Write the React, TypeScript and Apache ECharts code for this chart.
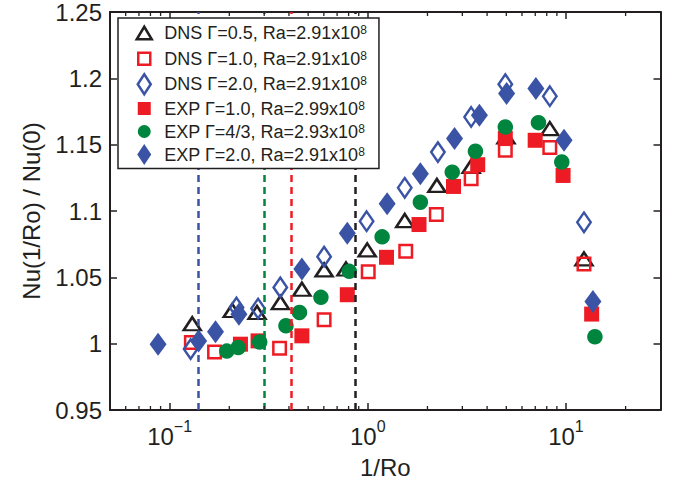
import React, { useEffect, useRef } from "react";
import * as echarts from "echarts";

const FONT = '"Liberation Sans", Arial, Helvetica, sans-serif';
const BLACK = "#231f20";
const RED = "#ed1c24";
const BLUE = "#3a53a4";
const GREEN = "#00853f";

const xMin = 0.05;
const xMax = 30;
const yMin = 0.95;
const yMax = 1.25;
const yStep = 0.05;

// DNS Γ=0.5
const dnsG05X = [0.130, 0.207, 0.276, 0.362, 0.465, 0.602, 0.776, 0.993, 1.536, 2.232, 3.323, 4.983, 8.289, 12.33];
const dnsG05Y = [1.015, 1.025, 1.0235, 1.031, 1.041, 1.0556, 1.0563, 1.0707, 1.0928, 1.1193, 1.1336, 1.1558, 1.1621, 1.0639];
// DNS Γ=1.0
const dnsG10X = [0.1287, 0.1685, 0.3588, 0.6018, 1.005, 1.554, 2.217, 3.323, 4.942, 8.289, 12.33];
const dnsG10Y = [1.0009, 0.9938, 0.9966, 1.018, 1.0543, 1.0696, 1.0974, 1.1243, 1.1457, 1.1478, 1.0601];
// DNS Γ=2.0
const dnsG20X = [0.1276, 0.2174, 0.2794, 0.3617, 0.6018, 0.986, 1.536, 2.258, 3.323, 4.942, 8.289, 12.33];
const dnsG20Y = [0.9959, 1.0273, 1.0265, 1.0424, 1.0656, 1.0923, 1.1175, 1.1444, 1.1709, 1.1956, 1.1865, 1.0915];
// EXP Γ=1.0
const expG10X = [0.2277, 0.2794, 0.4648, 0.788, 1.243, 1.813, 2.707, 3.587, 4.942, 6.993, 9.67, 13.48];
const expG10Y = [0.9996, 1.0021, 1.0059, 1.0369, 1.0651, 1.0898, 1.1185, 1.1349, 1.1546, 1.1533, 1.1268, 1.0223];
// EXP Γ=4/3
const expG43X = [0.1943, 0.2217, 0.2847, 0.3863, 0.4521, 0.5799, 0.8063, 1.181, 1.842, 2.668, 3.493, 4.942, 7.265, 9.526, 14.0];
const expG43Y = [0.9944, 0.9971, 1.0012, 1.0135, 1.0235, 1.0349, 1.0545, 1.0805, 1.1066, 1.1293, 1.145, 1.1633, 1.1666, 1.1369, 1.0052];
// EXP Γ=2.0
const expG20X = [0.0874, 0.14, 0.1704, 0.2237, 0.4648, 0.788, 1.252, 1.842, 2.74, 3.658, 5.017, 7.05, 9.78, 13.68];
const expG20Y = [0.9996, 1.0021, 1.0089, 1.0222, 1.0563, 1.0832, 1.1054, 1.1281, 1.1546, 1.1722, 1.1886, 1.1923, 1.1533, 1.0318];

// vertical dashed reference lines (1/Ro)
const vlineX = [0.1417, 0.3015, 0.406, 0.861];
const vlineColors = [BLUE, GREEN, RED, BLACK];

// minor ticks of the log axis
const minorTickX = [0.06, 0.07, 0.08, 0.09, 0.2, 0.3, 0.4, 0.5, 0.6, 0.7, 0.8, 0.9, 2, 3, 4, 5, 6, 7, 8, 9, 20];

const seriesNames = ["DNS05", "DNS10", "DNS20", "EXP10", "EXP43", "EXP20"];
const legendTexts = [
  "DNS Γ=0.5, Ra=2.91x10{s|8}",
  "DNS Γ=1.0, Ra=2.91x10{s|8}",
  "DNS Γ=2.0, Ra=2.91x10{s|8}",
  "EXP Γ=1.0, Ra=2.99x10{s|8}",
  "EXP Γ=4/3, Ra=2.93x10{s|8}",
  "EXP Γ=2.0, Ra=2.91x10{s|8}",
];

const PAD = "M-11,-11M11,11";
const legendIcons = [
  `path://${PAD}M0,-6.5L7.5,6L-7.5,6Z`,
  `path://${PAD}M-6,-6L6,-6L6,6L-6,6Z`,
  `path://${PAD}M0,-10L6.5,0L0,10L-6.5,0Z`,
  `path://${PAD}M-6.5,-6.5L6.5,-6.5L6.5,6.5L-6.5,6.5Z`,
  `path://${PAD}M6.5,0A6.5,6.5,0,1,1,-6.5,0A6.5,6.5,0,1,1,6.5,0Z`,
  `path://${PAD}M0,-10.5L7,0L0,10.5L-7,0Z`,
];

function pairs(xs: number[], ys: number[]) {
  return xs.map((x, i) => [x, ys[i]]);
}

export default function App() {
  const ref = useRef<HTMLDivElement>(null);
  useEffect(() => {
    document.body.style.margin = "0";
    const chart = echarts.init(ref.current!, null, { renderer: "svg" });

    const axisLine = { show: true, onZero: false, lineStyle: { color: BLACK, width: 2 } };
    const axisTick = { show: true, inside: true, length: 7, lineStyle: { color: BLACK, width: 1.5 } };

    const openStyle = (c: string) => ({ color: "transparent", borderColor: c, borderWidth: 2.5, opacity: 1 });
    const fillStyle = (c: string) => ({ color: c, borderWidth: 0, opacity: 1 });

    const scatterDefs = [
      { xs: dnsG05X, ys: dnsG05Y, symbol: "triangle", size: [17, 13], style: openStyle(BLACK) },
      { xs: dnsG10X, ys: dnsG10Y, symbol: "rect", size: [12.5, 12.5], style: openStyle(RED) },
      { xs: dnsG20X, ys: dnsG20Y, symbol: "diamond", size: [13.5, 19.5], style: openStyle(BLUE) },
      { xs: expG10X, ys: expG10Y, symbol: "rect", size: [15, 15], style: fillStyle(RED) },
      { xs: expG43X, ys: expG43Y, symbol: "circle", size: 15.5, style: fillStyle(GREEN) },
      { xs: expG20X, ys: expG20Y, symbol: "diamond", size: [17, 23], style: fillStyle(BLUE) },
    ];

    const legendStyles = [
      openStyle(BLACK), openStyle(RED), openStyle(BLUE),
      fillStyle(RED), fillStyle(GREEN), fillStyle(BLUE),
    ];

    const series: any[] = scatterDefs.map((d, i) => ({
      type: "scatter",
      name: seriesNames[i],
      data: pairs(d.xs, d.ys),
      symbol: d.symbol,
      symbolSize: d.size,
      itemStyle: d.style,
      z: 2,
      silent: true,
      emphasis: { disabled: true },
    }));

    series.push({
      type: "scatter",
      name: "refLines",
      data: [],
      z: 3,
      silent: true,
      markLine: {
        silent: true,
        z: 3,
        symbol: ["none", "none"],
        label: { show: false },
        animation: false,
        data: vlineX.map((x, i) => ({
          xAxis: x,
          lineStyle: { color: vlineColors[i], width: 2.5, type: [7, 5], opacity: 1 },
        })),
      },
    });

    series.push({
      type: "custom",
      name: "minorTicks",
      data: minorTickX.map((x) => [x, yMin]),
      silent: true,
      z: 3,
      renderItem: (params: any, api: any) => {
        const x = api.value(0);
        const b = api.coord([x, yMin]);
        const t = api.coord([x, yMax]);
        const st = { stroke: BLACK, lineWidth: 1.3 };
        return {
          type: "group",
          children: [
            { type: "line", shape: { x1: b[0], y1: b[1], x2: b[0], y2: b[1] - 4 }, style: st },
            { type: "line", shape: { x1: t[0], y1: t[1], x2: t[0], y2: t[1] + 4 }, style: st },
          ],
        };
      },
    });

    chart.setOption({
      animation: false,
      backgroundColor: "#fff",
      textStyle: { fontFamily: FONT },
      grid: { left: 110, right: 16.5, top: 10, bottom: 75, containLabel: false },
      xAxis: [
        {
          type: "log",
          logBase: 10,
          min: xMin,
          max: xMax,
          position: "bottom",
          axisLine,
          axisTick,
          splitLine: { show: false },
          minorTick: { show: false },
          axisLabel: {
            margin: 8,
            showMinLabel: false,
            showMaxLabel: false,
            formatter: (v: number) => {
              const e = Math.round(Math.log10(v));
              const es = e < 0 ? "−" + -e : String(e);
              return `{b|10}{s|${es}}`;
            },
            rich: {
              b: { fontSize: 24, lineHeight: 30, verticalAlign: "bottom", color: BLACK, fontFamily: FONT },
              s: { fontSize: 16, lineHeight: 16, verticalAlign: "top", color: BLACK, fontFamily: FONT },
            },
          },
          name: "1/Ro",
          nameLocation: "middle",
          nameGap: 45,
          nameTextStyle: { fontSize: 24, color: BLACK, fontFamily: FONT },
        },
        {
          type: "log",
          logBase: 10,
          min: xMin,
          max: xMax,
          position: "top",
          axisLine,
          axisTick,
          splitLine: { show: false },
          axisLabel: { show: false },
        },
      ],
      yAxis: [
        {
          type: "value",
          min: yMin,
          max: yMax,
          interval: yStep,
          axisLine,
          axisTick,
          splitLine: { show: false },
          axisLabel: {
            margin: 8,
            fontSize: 24,
            color: BLACK,
            fontFamily: FONT,
            formatter: (v: number) => String(+v.toFixed(2)),
          },
          name: "Nu(1/Ro) / Nu(0)",
          nameLocation: "middle",
          nameGap: 67,
          nameTextStyle: { fontSize: 24, color: BLACK, fontFamily: FONT },
        },
        {
          type: "value",
          position: "right",
          min: yMin,
          max: yMax,
          interval: yStep,
          axisLine,
          axisTick,
          splitLine: { show: false },
          axisLabel: { show: false },
        },
      ],
      legend: {
        orient: "vertical",
        left: 118,
        top: 18,
        z: 20,
        padding: [3, 12, 3, 14],
        itemWidth: 30,
        itemHeight: 22,
        itemGap: 1,
        backgroundColor: "#fff",
        borderColor: BLACK,
        borderWidth: 1.5,
        borderRadius: 0,
        selectedMode: false,
        data: seriesNames.map((n, i) => ({ name: n, icon: legendIcons[i], itemStyle: legendStyles[i] })),
        formatter: (name: string) => legendTexts[seriesNames.indexOf(name)],
        textStyle: {
          fontSize: 18,
          lineHeight: 18,
          color: BLACK,
          fontFamily: FONT,
          rich: {
            s: { fontSize: 12, lineHeight: 9, verticalAlign: "top", color: BLACK, fontFamily: FONT },
          },
        },
      },
      series,
    });
    return () => chart.dispose();
  }, []);
  return <div ref={ref} style={{ width: 677, height: 485 }} />;
}
